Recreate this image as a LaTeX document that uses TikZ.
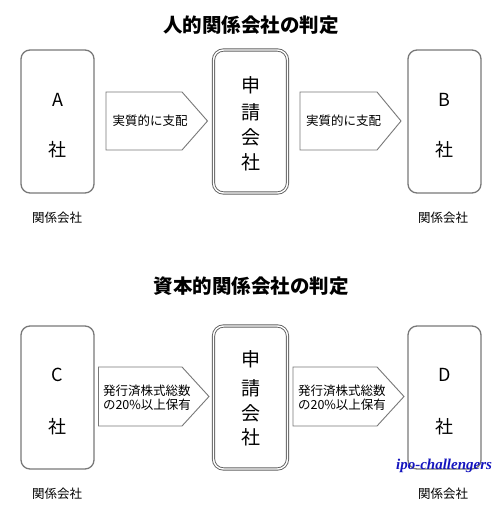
\documentclass[tikz,border=0pt]{standalone}
\usepackage{fontspec}
\setmainfont{Noto Sans CJK JP}
\newfontfamily\wmfont{Liberation Serif}
\definecolor{boxgray}{RGB}{120,120,120}
\definecolor{wmblue}{RGB}{20,20,190}
\tikzset{
  company/.style={draw=boxgray, line width=1.3pt, rounded corners=9pt},
  applicant/.style={draw=boxgray!80!black, line width=0.9pt, double=white, double distance=1.4pt, rounded corners=10pt},
  pentarrow/.style={draw=boxgray, line width=0.9pt, fill=white},
  title/.style={font=\fontsize{19.5}{22}\selectfont\bfseries},
  boxtxt/.style={font=\fontsize{18}{20}\selectfont},
  bigtxt/.style={font=\fontsize{19}{21}\selectfont},
  arrtxt/.style={font=\fontsize{12.5}{14}\selectfont, align=left, inner sep=0pt},
  captxt/.style={font=\fontsize{12.5}{14}\selectfont},
}
\begin{document}
\begin{tikzpicture}[x=1pt,y=-1pt]
\useasboundingbox (0,0) rectangle (500,510);
\fill[white] (0,0) rectangle (500,510);

% ---------- top section ----------
\node[title] (t1) at (251,25) {人的関係会社の判定};
\draw[company] (21,50) rectangle (94,193);
\node[boxtxt] (a1) at (57.5,100) {A};
\node[boxtxt] (a2) at (57.5,150) {社};
\draw[applicant] (213.5,50) rectangle (287.5,193);
\node[bigtxt] (s1) at (250.5,85) {申};
\node[bigtxt] (s2) at (250.5,112) {請};
\node[bigtxt] (s3) at (250.5,137) {会};
\node[bigtxt] (s4) at (250.5,162) {社};
\draw[company] (408,50) rectangle (481,193);
\node[boxtxt] (b1) at (444.5,100) {B};
\node[boxtxt] (b2) at (444.5,150) {社};
\draw[pentarrow] (106,92) -- (182,92) -- (207.5,121) -- (182,150) -- (106,150) -- cycle;
\node[arrtxt] (l1) at (150,121) {実質的に支配};
\draw[pentarrow] (300,92) -- (377,92) -- (401,121) -- (377,150) -- (300,150) -- cycle;
\node[arrtxt] (l2) at (343.5,121) {実質的に支配};
\node[captxt] (c1) at (57,218) {関係会社};
\node[captxt] (c2) at (443,218) {関係会社};

% ---------- bottom section ----------
\node[title] (t2) at (251,286) {資本的関係会社の判定};
\draw[company] (21,326) rectangle (94,469);
\node[boxtxt] (cc1) at (57.5,375) {C};
\node[boxtxt] (cc2) at (57.5,427) {社};
\draw[applicant] (213.5,326) rectangle (287.5,469);
\node[bigtxt] (u1) at (250.5,359) {申};
\node[bigtxt] (u2) at (250.5,388) {請};
\node[bigtxt] (u3) at (250.5,413) {会};
\node[bigtxt] (u4) at (250.5,437) {社};
\draw[company] (408,326) rectangle (481,469);
\node[boxtxt] (d1) at (444.5,375) {D};
\node[boxtxt] (d2) at (444.5,427) {社};
\draw[pentarrow] (98.5,367) -- (182,367) -- (209,396.5) -- (182,426) -- (98.5,426) -- cycle;
\node[arrtxt] (m1) at (147,398) {発行済株式総数\\の20\%以上保有};
\draw[pentarrow] (293,367) -- (377,367) -- (404,396.5) -- (377,426) -- (293,426) -- cycle;
\node[arrtxt] (m2) at (342,398) {発行済株式総数\\の20\%以上保有};
\node[captxt] (e1) at (57,494) {関係会社};
\node[captxt] (e2) at (443,494) {関係会社};
\node[font=\wmfont\fontsize{15}{17}\selectfont\bfseries\itshape, text=wmblue] (wm) at (444,466) {ipo-challengers};
\end{tikzpicture}
\end{document}
